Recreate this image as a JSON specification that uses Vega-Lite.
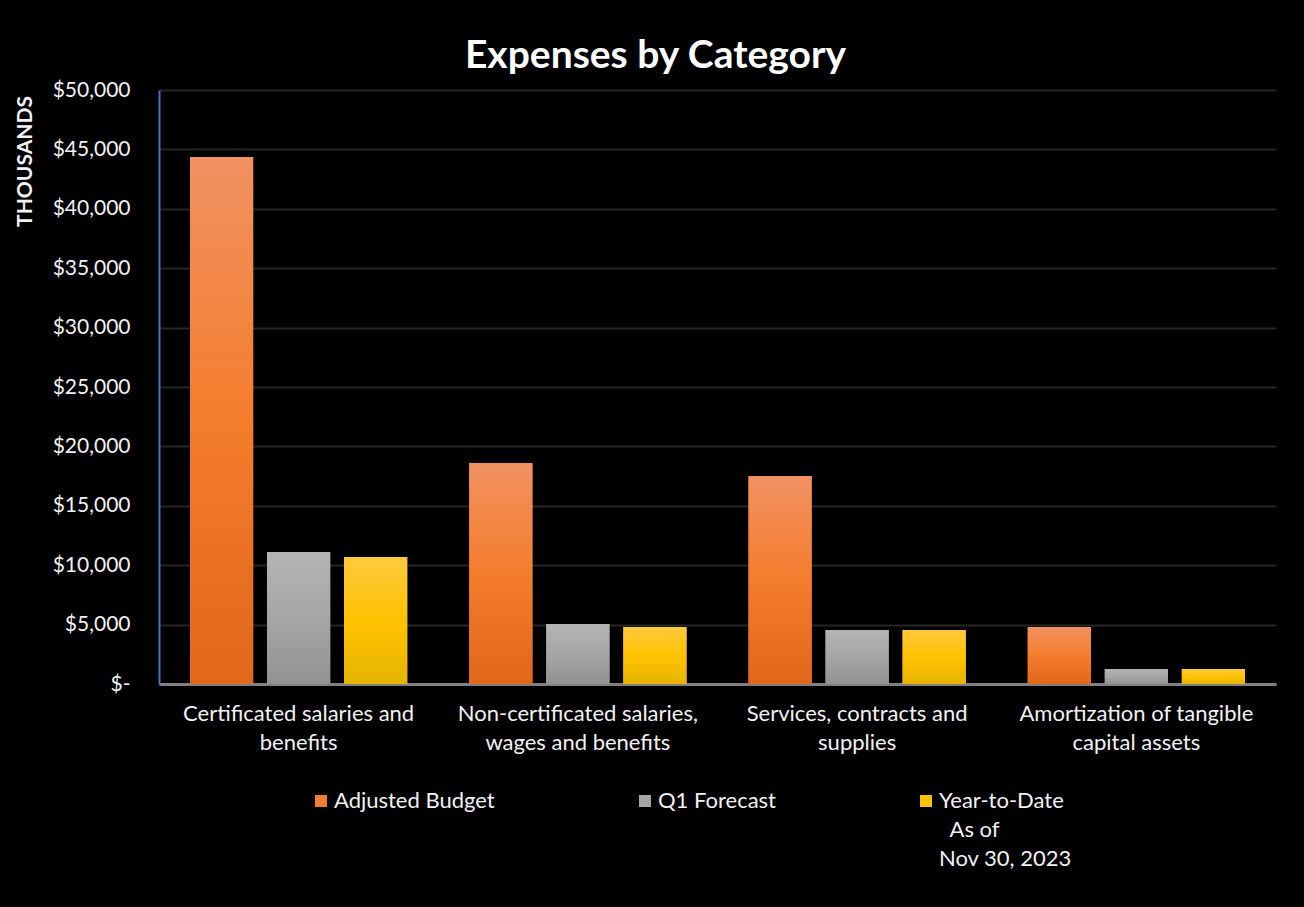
{
  "$schema": "https://vega.github.io/schema/vega-lite/v6.json",
  "width": 1117,
  "height": 594,
  "autosize": {"type": "none"},
  "padding": {"left": 159, "top": 90, "right": 28, "bottom": 223},
  "background": "#000000",
  "title": {
    "text": "Expenses by Category",
    "font": "Lato",
    "fontSize": 39,
    "fontWeight": "bold",
    "color": "#ffffff",
    "anchor": "middle",
    "dx": -62,
    "offset": 3
  },
  "data": {
    "values": [
      {"category": "Certificated salaries and benefits", "series": "Adjusted Budget", "value": 44360},
      {"category": "Certificated salaries and benefits", "series": "Q1 Forecast", "value": 11110},
      {"category": "Certificated salaries and benefits", "series": "Year-to-Date", "value": 10690},
      {"category": "Non-certificated salaries, wages and benefits", "series": "Adjusted Budget", "value": 18600},
      {"category": "Non-certificated salaries, wages and benefits", "series": "Q1 Forecast", "value": 5050},
      {"category": "Non-certificated salaries, wages and benefits", "series": "Year-to-Date", "value": 4800},
      {"category": "Services, contracts and supplies", "series": "Adjusted Budget", "value": 17500},
      {"category": "Services, contracts and supplies", "series": "Q1 Forecast", "value": 4550},
      {"category": "Services, contracts and supplies", "series": "Year-to-Date", "value": 4540},
      {"category": "Amortization of tangible capital assets", "series": "Adjusted Budget", "value": 4800},
      {"category": "Amortization of tangible capital assets", "series": "Q1 Forecast", "value": 1260},
      {"category": "Amortization of tangible capital assets", "series": "Year-to-Date", "value": 1260}
    ]
  },
  "encoding": {
    "x": {
      "field": "category",
      "type": "nominal",
      "sort": [
        "Certificated salaries and benefits",
        "Non-certificated salaries, wages and benefits",
        "Services, contracts and supplies",
        "Amortization of tangible capital assets"
      ],
      "scale": {"paddingInner": 0.222, "paddingOuter": 0.111},
      "axis": {
        "title": null,
        "labelAngle": 0,
        "labelExpr": "datum.label == 'Certificated salaries and benefits' ? ['Certificated salaries and', 'benefits'] : datum.label == 'Non-certificated salaries, wages and benefits' ? ['Non-certificated salaries,', 'wages and benefits'] : datum.label == 'Services, contracts and supplies' ? ['Services, contracts and', 'supplies'] : ['Amortization of tangible', 'capital assets']",
        "labelFont": "Lato",
        "labelFontSize": 22,
        "labelColor": "#f2f2f2",
        "labelPadding": 19,
        "labelBaseline": "top",
        "labelLineHeight": 29,
        "labelLimit": 0,
        "ticks": false,
        "grid": false,
        "domainColor": "#808080",
        "domainWidth": 3
      }
    },
    "xOffset": {
      "field": "series",
      "type": "nominal",
      "sort": ["Adjusted Budget", "Q1 Forecast", "Year-to-Date"],
      "scale": {"domain": ["Adjusted Budget", "Q1 Forecast", "Year-to-Date"], "paddingInner": 0.18, "paddingOuter": 0}
    },
    "y": {
      "field": "value",
      "type": "quantitative",
      "scale": {"domain": [0, 50000], "nice": false},
      "axis": {
        "title": "THOUSANDS",
        "titleFont": "Lato",
        "titleFontSize": 21,
        "titleFontWeight": "bold",
        "titleColor": "#f2f2f2",
        "titleAngle": 270,
        "titleAlign": "center",
        "titleBaseline": "middle",
        "titleX": -134,
        "titleY": 71,
        "values": [0, 5000, 10000, 15000, 20000, 25000, 30000, 35000, 40000, 45000, 50000],
        "labelExpr": "datum.value == 0 ? '$-' : '$' + format(datum.value, ',')",
        "labelFont": "Lato",
        "labelFontSize": 21,
        "labelColor": "#f2f2f2",
        "labelPadding": 29,
        "ticks": false,
        "grid": true,
        "gridColor": "#262626",
        "gridWidth": 2,
        "domainColor": "#4472C4",
        "domainWidth": 2
      }
    }
  },
  "layer": [
    {
      "mark": {"type": "bar"},
      "encoding": {
        "color": {
          "field": "series",
          "type": "nominal",
          "scale": {
            "domain": ["Adjusted Budget", "Q1 Forecast", "Year-to-Date"],
            "range": ["#F07F33", "#A5A5A5", "#FFC20A"]
          },
          "legend": {
            "orient": "none",
            "legendX": 151,
            "legendY": 700,
            "direction": "horizontal",
            "columns": 3,
            "title": null,
            "symbolType": "square",
            "symbolSize": 144,
            "symbolStrokeWidth": 0,
            "symbolOpacity": 1,
            "labelFont": "Lato",
            "labelFontSize": 22,
            "labelColor": "#f2f2f2",
            "labelOffset": 2,
            "labelBaseline": "middle",
            "labelLimit": 0,
            "columnPadding": 139,
            "labelExpr": "datum.label == 'Year-to-Date' ? ['Year-to-Date', '\u200b\u00a0\u00a0As of', 'Nov 30, 2023'] : [datum.label, '', '']",
            "encode": {
              "labels": {"update": {"lineHeight": {"value": 29}}}
            }
          }
        }
      }
    },
    {
      "transform": [{"filter": "datum.series == 'Adjusted Budget'"}],
      "mark": {
        "type": "bar",
        "color": {"gradient": "linear", "x1": 0, "y1": 0, "x2": 0, "y2": 1, "stops": [{"offset": 0, "color": "#F19262"}, {"offset": 0.5, "color": "#F47D2C"}, {"offset": 1, "color": "#E1671A"}]}
      }
    },
    {
      "transform": [{"filter": "datum.series == 'Q1 Forecast'"}],
      "mark": {
        "type": "bar",
        "color": {"gradient": "linear", "x1": 0, "y1": 0, "x2": 0, "y2": 1, "stops": [{"offset": 0, "color": "#B4B4B4"}, {"offset": 0.5, "color": "#A6A6A6"}, {"offset": 1, "color": "#929292"}]}
      }
    },
    {
      "transform": [{"filter": "datum.series == 'Year-to-Date'"}],
      "mark": {
        "type": "bar",
        "color": {"gradient": "linear", "x1": 0, "y1": 0, "x2": 0, "y2": 1, "stops": [{"offset": 0, "color": "#FFC93F"}, {"offset": 0.5, "color": "#FFC200"}, {"offset": 1, "color": "#E5B400"}]}
      }
    }
  ],
  "config": {
    "view": {"stroke": null}
  }
}
